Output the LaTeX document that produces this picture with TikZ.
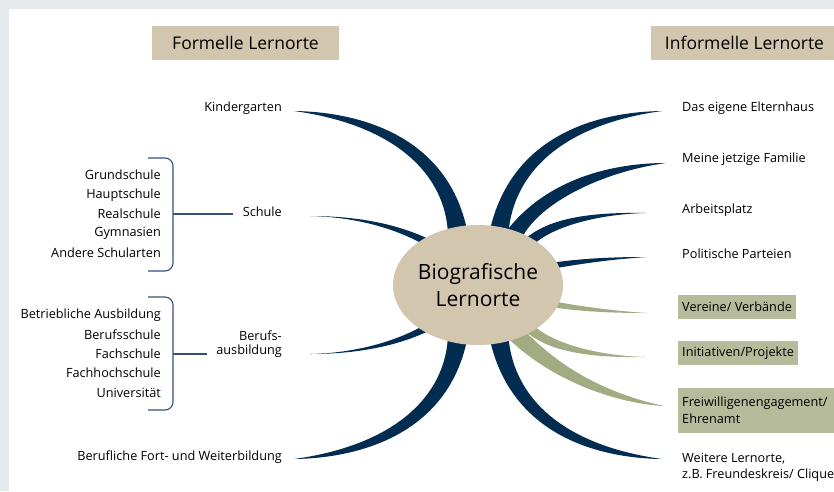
\documentclass[tikz,border=0pt]{standalone}
\usepackage{fontspec}
\setmainfont{Open Sans}
\usetikzlibrary{shapes.geometric,calc}
\definecolor{bggrey}{HTML}{E5E9EC}
\definecolor{tanc}{HTML}{D3C6AF}
\definecolor{navyc}{HTML}{022D50}
\definecolor{gboxc}{HTML}{B5BB9B}
\definecolor{gbranch}{HTML}{A2AC83}
\definecolor{bracec}{HTML}{35517A}
\tikzset{
  lbl/.style={font=\fontsize{12.7}{15}\selectfont, inner sep=0pt, text=black},
  lleft/.style={lbl, anchor=east},
  lright/.style={lbl, anchor=west},
  titlebox/.style={fill=tanc, font=\fontsize{17.5}{20}\selectfont, minimum width=187pt, minimum height=34pt, inner sep=0pt},
  gbox/.style={lbl, fill=gboxc, inner xsep=4pt, anchor=west, minimum height=24pt},
  bracket/.style={draw=bracec, line width=1.1pt, rounded corners=8pt},
  stem/.style={draw=bracec, line width=1.1pt},
  navybranch/.style={fill=navyc},
  greenbranch/.style={fill=gbranch},
}
\begin{document}
\begin{tikzpicture}[x=1pt,y=-1pt]
\clip (0,0) rectangle (834,491);
\fill[bggrey] (0,0) rectangle (834,491);
\fill[white] (9,9) rectangle (834,491);

% titles
\node[titlebox] (formal) at (245.5,43) {Formelle Lernorte};
\node[titlebox] (informal) at (744.5,43) {Informelle Lernorte};

% branch tips
\coordinate (kT) at (294,111);
\coordinate (sT) at (310,216);
\coordinate (bT) at (310,354);
\coordinate (fT) at (294,459);
\coordinate (eT) at (662,111);
\coordinate (faT) at (666,163);
\coordinate (aT) at (646,213);
\coordinate (pT) at (647,257);
\coordinate (vT) at (647,313);
\coordinate (iT) at (646,357);
\coordinate (frT) at (664,406);
\coordinate (wT) at (662,459);

% left branches
\fill[navybranch] (kT) .. controls (366,112) and (451,140) .. (468,235) -- (448,235) .. controls (446,175) and (396,125) .. (kT) -- cycle;
\fill[navybranch] (sT) .. controls (360,216) and (405,225) .. (440,245) -- (436,252) .. controls (405,231) and (360,217) .. (sT) -- cycle;
\fill[navybranch] (bT) .. controls (360,354) and (405,345) .. (440,325) -- (436,318) .. controls (405,339) and (360,353) .. (bT) -- cycle;
\fill[navybranch] (fT) .. controls (366,458) and (451,430) .. (468,335) -- (448,335) .. controls (446,395) and (396,445) .. (fT) -- cycle;

% right branches
\fill[navybranch] (eT) .. controls (590,112) and (505,140) .. (488,240) -- (508,240) .. controls (510,175) and (560,125) .. (eT) -- cycle;
\fill[navybranch] (faT) .. controls (610,163) and (540,180) .. (500,240) -- (520,242) .. controls (535,205) and (600,172) .. (faT) -- cycle;
\fill[navybranch] (aT) .. controls (590,212) and (548,218) .. (524,240) -- (532,246) .. controls (552,226) and (600,214) .. (aT) -- cycle;
\fill[navybranch] (pT) .. controls (615,257) and (585,258) .. (550,263) -- (551,269) .. controls (585,263) and (615,259) .. (pT) -- cycle;
\fill[greenbranch] (vT) .. controls (615,313) and (585,312) .. (550,307) -- (551,301) .. controls (585,307) and (615,311) .. (vT) -- cycle;
\fill[greenbranch] (iT) .. controls (590,358) and (548,352) .. (524,330) -- (532,324) .. controls (552,344) and (600,356) .. (iT) -- cycle;
\fill[greenbranch] (frT) .. controls (620,404) and (548,382) .. (500,330) -- (524,330) .. controls (548,355) and (590,390) .. (frT) -- cycle;
\fill[navybranch] (wT) .. controls (590,458) and (505,430) .. (488,330) -- (508,330) .. controls (510,395) and (560,445) .. (wT) -- cycle;

% centre
\node[ellipse, fill=tanc, minimum width=170pt, minimum height=120pt, inner sep=0pt, align=center, font=\fontsize{21}{27}\selectfont] (bio) at (478,285) {Biografische\\Lernorte};

% left labels
\node[lleft] (kinder) at (282,108) {Kindergarten};
\node[lleft] (schule) at (282,212) {Schule};
\node[lleft, align=right, font=\fontsize{12.7}{14.5}\selectfont] (beruf) at (282,344) {Berufs-\\ausbildung};
\node[lleft] (fort) at (282,457) {Berufliche Fort- und Weiterbildung};

% school list
\node[lleft] (s1) at (161,175) {Grundschule};
\node[lleft] (s2) at (161,195) {Hauptschule};
\node[lleft] (s3) at (161,214) {Realschule};
\node[lleft] (s4) at (161,233) {Gymnasien};
\node[lleft] (s5) at (161,253) {Andere Schularten};
\draw[bracket] (148,158) -- (173,158) -- (173,271) -- (148,271);
\coordinate (sJ) at (173,214);
\coordinate (sE) at (233,214);
\draw[stem] (sJ) -- (sE);

% vocational list
\node[lleft] (b1) at (161,315) {Betriebliche Ausbildung};
\node[lleft] (b2) at (161,335) {Berufsschule};
\node[lleft] (b3) at (161,354) {Fachschule};
\node[lleft] (b4) at (161,373) {Fachhochschule};
\node[lleft] (b5) at (161,393) {Universität};
\draw[bracket] (148,297) -- (173,297) -- (173,410) -- (148,410);
\coordinate (bJ) at (173,354);
\coordinate (bE) at (207,354);
\draw[stem] (bJ) -- (bE);

% right labels
\node[lright] (eltern) at (682,108) {Das eigene Elternhaus};
\node[lright] (familie) at (682,159) {Meine jetzige Familie};
\node[lright] (arbeit) at (682,210) {Arbeitsplatz};
\node[lright] (partei) at (682,254) {Politische Parteien};
\node[gbox] (verein) at (678,307) {Vereine/ Verbände};
\node[gbox] (init) at (678,353) {Initiativen/Projekte};
\node[gbox, align=left, font=\fontsize{12.7}{17}\selectfont, minimum height=45pt, text width=160pt] (frei) at (678,410.5) {Freiwilligenengagement/\\Ehrenamt};
\node[lright, align=left, font=\fontsize{12.7}{16}\selectfont] (weitere) at (682,467.5) {Weitere Lernorte,\\z.B. Freundeskreis/ Clique};
\end{tikzpicture}
\end{document}
